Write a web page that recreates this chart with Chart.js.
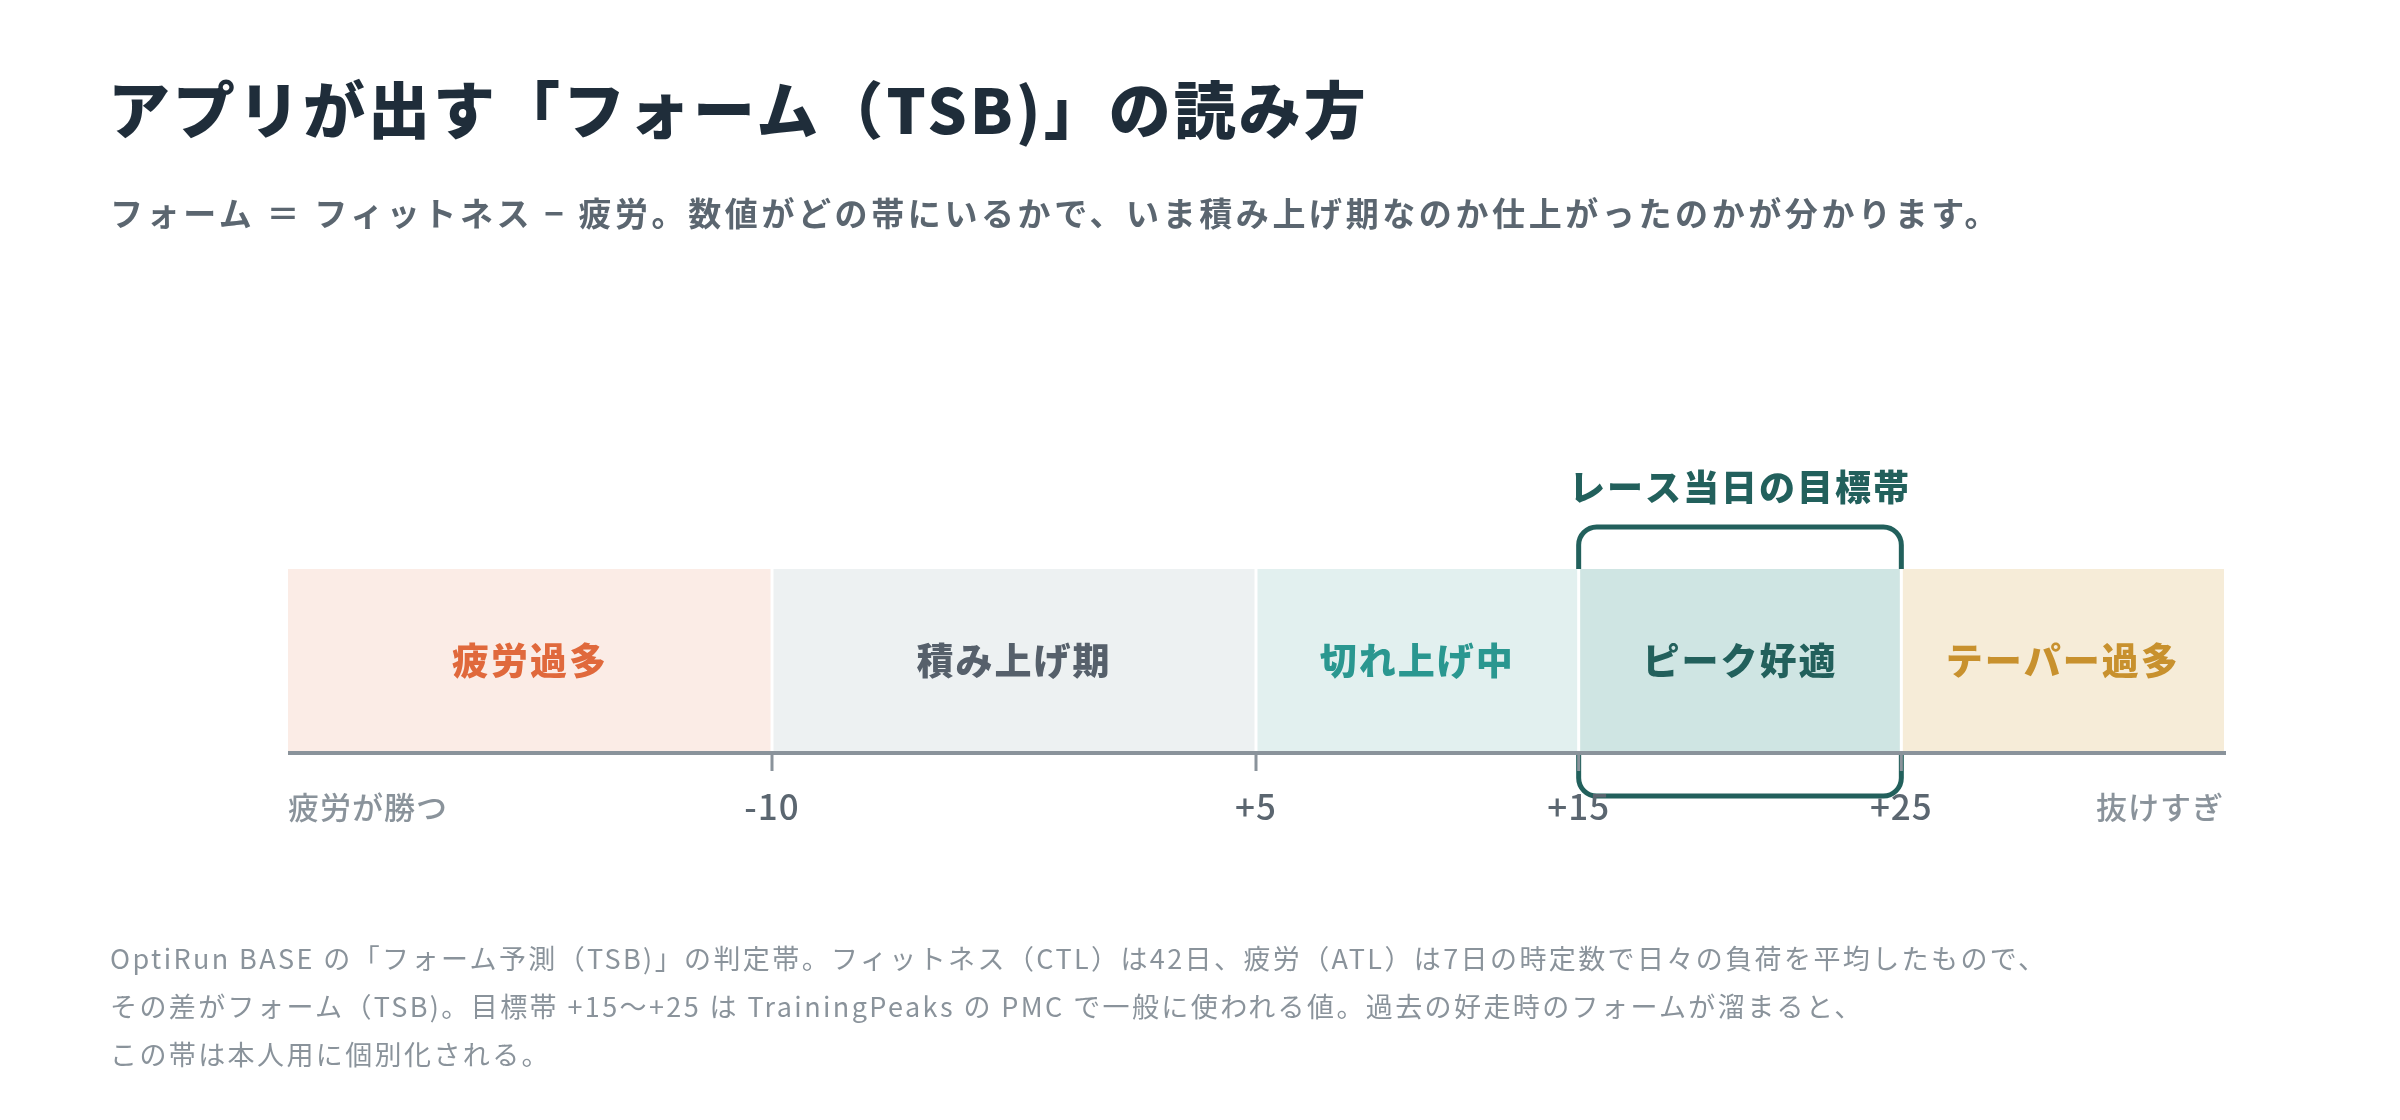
<!DOCTYPE html>
<html lang="ja">
<head>
<meta charset="utf-8">
<script src="https://cdn.jsdelivr.net/npm/chart.js@4.4.1/dist/chart.umd.min.js"></script>
<style>
  body { margin: 0; background: #fff; font-family: "Noto Sans CJK JP", "Noto Sans", sans-serif; }
  #wrap { position: relative; width: 2400px; height: 1120px; }
  #chart-box { position: absolute; left: 0; top: 0; width: 2400px; height: 1120px; }
  h1 { position: absolute; left: 108px; top: 76px; margin: 0; font-size: 62px; font-weight: 900; color: #1f2d3a; line-height: 1; letter-spacing: 3px; }
  .sub { position: absolute; left: 110px; top: 188px; margin: 0; font-size: 33px; font-weight: 700; color: #5b6670; letter-spacing: 3.6px; }
  .note { position: absolute; left: 110px; top: 934px; margin: 0; font-size: 27px; line-height: 48px; color: #8a939b; letter-spacing: 2.4px; }
</style>
</head>
<body>
<div id="wrap">
  <div id="chart-box"><canvas id="tsb"></canvas></div>
  <h1>アプリが出す「フォーム（TSB)」の読み方</h1>
  <p class="sub">フォーム ＝ フィットネス − 疲労。数値がどの帯にいるかで、いま積み上げ期なのか仕上がったのかが分かります。</p>
  <p class="note">OptiRun BASE の「フォーム予測（TSB)」の判定帯。フィットネス（CTL）は42日、疲労（ATL）は7日の時定数で日々の負荷を平均したもので、<br>その差がフォーム（TSB)。目標帯 +15〜+25 は TrainingPeaks の PMC で一般に使われる値。過去の好走時のフォームが溜まると、<br>この帯は本人用に個別化される。</p>
</div>
<script>
// zone table
const zoneNames = ['疲労過多', '積み上げ期', '切れ上げ中', 'ピーク好適', 'テーパー過多'];
const zoneStart = [-25, -10, 5, 15, 25];
const zoneEnd = [-10, 5, 15, 25, 35];
const zoneFill = ['#fbece6', '#edf1f2', '#e2f0ef', '#cfe5e3', '#f6ecd8'];
const zoneText = ['#e0693c', '#56606b', '#2a9790', '#22605c', '#c8912e'];
const tickValues = [-10, 5, 15, 25];
const tickLabels = ['-10', '+5', '+15', '+25'];
const targetRange = [15, 25];
const targetLabel = 'レース当日の目標帯';
const endLabels = ['疲労が勝つ', '抜けすぎ'];

const FONT = '"Noto Sans CJK JP", "Noto Sans", sans-serif';

const bandPlugin = {
    id: 'bands',
    // bracket goes behind the bands, so it only shows above and below them
    beforeDatasetsDraw(chart) {
        const ctx = chart.ctx;
        const x = chart.scales.x;
        const area = chart.chartArea;
        const l = x.getPixelForValue(targetRange[0]);
        const r = x.getPixelForValue(targetRange[1]);
        const t = area.top - 42, b = area.bottom + 43;
        ctx.save();
        ctx.strokeStyle = '#22605c';
        ctx.lineWidth = 5;
        ctx.beginPath();
        ctx.roundRect(l, t, r - l, b - t, 18);
        ctx.stroke();
        ctx.font = `900 36px ${FONT}`;
        ctx.letterSpacing = '2px';
        ctx.fillStyle = '#22605c';
        ctx.textAlign = 'center';
        ctx.textBaseline = 'middle';
        ctx.fillText(targetLabel, (l + r) / 2, t - 40);
        ctx.restore();
    },
    afterDatasetsDraw(chart) {
        const ctx = chart.ctx;
        const x = chart.scales.x;
        const area = chart.chartArea;
        const midY = (area.top + area.bottom) / 2;
        ctx.save();

        // white separators between zones
        ctx.strokeStyle = '#ffffff';
        ctx.lineWidth = 3;
        zoneStart.slice(1).forEach(v => {
            const px = x.getPixelForValue(v);
            ctx.beginPath();
            ctx.moveTo(px, area.top);
            ctx.lineTo(px, area.bottom);
            ctx.stroke();
        });

        // zone names
        ctx.font = `900 37px ${FONT}`;
        ctx.letterSpacing = '2px';
        ctx.textAlign = 'center';
        ctx.textBaseline = 'middle';
        zoneNames.forEach((name, i) => {
            const cx = (x.getPixelForValue(zoneStart[i]) + x.getPixelForValue(zoneEnd[i])) / 2;
            ctx.fillStyle = zoneText[i];
            ctx.fillText(name, cx, midY);
        });

        // axis line and ticks
        ctx.strokeStyle = '#8a939b';
        ctx.lineWidth = 4;
        ctx.beginPath();
        ctx.moveTo(area.left, area.bottom);
        ctx.lineTo(area.right + 2, area.bottom);
        ctx.stroke();
        ctx.lineWidth = 3;
        tickValues.forEach(v => {
            const px = x.getPixelForValue(v);
            ctx.beginPath();
            ctx.moveTo(px, area.bottom);
            ctx.lineTo(px, area.bottom + 18);
            ctx.stroke();
        });

        ctx.letterSpacing = '1px';
        ctx.font = `500 35px ${FONT}`;
        ctx.fillStyle = '#5b6670';
        tickValues.forEach((v, i) => {
            ctx.fillText(tickLabels[i], x.getPixelForValue(v), area.bottom + 54);
        });
        ctx.font = `500 31px ${FONT}`;
        ctx.fillStyle = '#8a939b';
        ctx.textAlign = 'left';
        ctx.fillText(endLabels[0], area.left, area.bottom + 54);
        ctx.textAlign = 'right';
        ctx.fillText(endLabels[1], area.right, area.bottom + 54);
        ctx.restore();
    }
};

new Chart(document.getElementById('tsb'), {
    type: 'bar',
    data: {
        labels: ['TSB'],
        datasets: zoneNames.map((name, i) => ({
            label: name,
            data: [[zoneStart[i], zoneEnd[i]]],
            backgroundColor: zoneFill[i],
            borderWidth: 0,
            grouped: false,
            barPercentage: 1,
            categoryPercentage: 1
        }))
    },
    options: {
        indexAxis: 'y',
        responsive: true,
        maintainAspectRatio: false,
        animation: false,
        layout: { padding: { left: 288, right: 176, top: 569, bottom: 367 } },
        scales: {
            x: { display: false, min: -25, max: 35 },
            y: { display: false }
        },
        plugins: { legend: { display: false }, tooltip: { enabled: false } }
    },
    plugins: [bandPlugin]
});
</script>
</body>
</html>
